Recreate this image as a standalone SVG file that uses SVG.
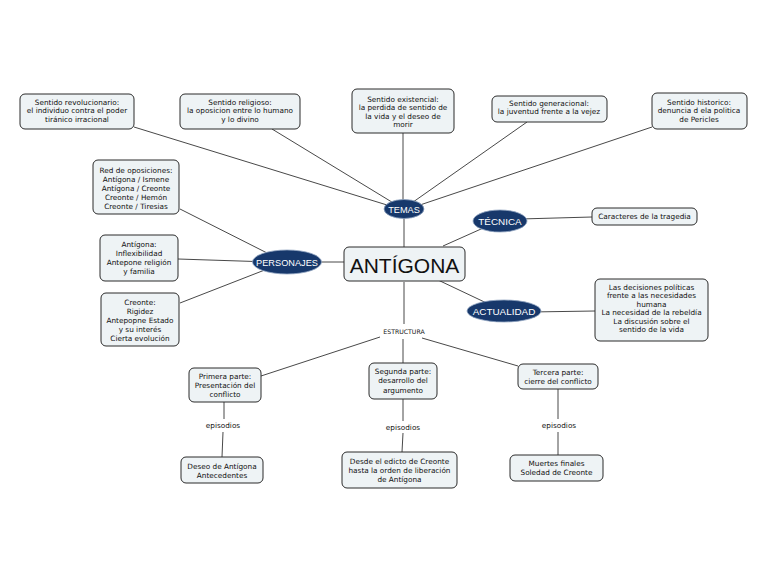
<svg xmlns="http://www.w3.org/2000/svg" width="768" height="578" viewBox="0 0 768 578">
<style>
.box{fill:#eef3f5;stroke:#2b2b2b;stroke-width:1}
.t{font-family:"DejaVu Sans",sans-serif;font-size:7.3px;fill:#111;text-anchor:middle}
.ov{fill:#17386b;stroke:#8fa3c0;stroke-width:0.8}
.ot{font-family:"Liberation Sans",Arial,sans-serif;font-size:9.2px;fill:#fff;text-anchor:middle}
.lbl{font-family:"DejaVu Sans",sans-serif;font-size:7.3px;fill:#111;text-anchor:middle}
.c line{stroke:#333;stroke-width:0.9}
</style>
<rect width="768" height="578" fill="#fff"/>
<g class="c" id="connectors">
<line x1="134" y1="127" x2="400" y2="209"/>
<line x1="272" y1="129" x2="400" y2="207"/>
<line x1="403" y1="133" x2="403" y2="205"/>
<line x1="527" y1="122" x2="406" y2="207"/>
<line x1="652" y1="127" x2="408" y2="209"/>
<line x1="404" y1="215" x2="404" y2="247"/>
<line x1="443" y1="246" x2="490" y2="225"/>
<line x1="520" y1="219" x2="592" y2="217"/>
<line x1="438" y1="280" x2="495" y2="307"/>
<line x1="530" y1="312" x2="595" y2="311"/>
<line x1="321" y1="262" x2="344" y2="262"/>
<line x1="180" y1="209" x2="275" y2="257"/>
<line x1="178" y1="259" x2="270" y2="262"/>
<line x1="180" y1="303" x2="275" y2="266"/>
<line x1="404" y1="282" x2="404" y2="324"/>
<line x1="380" y1="337" x2="261" y2="376"/>
<line x1="403" y1="339" x2="403" y2="363"/>
<line x1="422" y1="338" x2="518" y2="366"/>
<line x1="224" y1="402" x2="224" y2="419"/>
<line x1="223" y1="432" x2="222" y2="457"/>
<line x1="403" y1="399" x2="403" y2="421"/>
<line x1="403" y1="433" x2="402" y2="452"/>
<line x1="558" y1="389" x2="558" y2="419"/>
<line x1="558" y1="432" x2="558" y2="455"/>
</g>
<g id="rev"><rect class="box" x="20" y="94" width="114" height="35" rx="5"/>
<text class="t" x="77" y="104.5">Sentido revolucionario:</text><text class="t" x="77" y="113">el individuo contra el poder</text><text class="t" x="77" y="121.5">tiránico irracional</text></g>
<g id="rel"><rect class="box" x="180" y="94" width="120" height="35" rx="5"/>
<text class="t" x="240" y="104.5">Sentido religioso:</text><text class="t" x="240" y="113">la oposicion entre lo humano</text><text class="t" x="240" y="121.5">y lo divino</text></g>
<g id="exi"><rect class="box" x="352" y="89" width="102" height="44" rx="5"/>
<text class="t" x="403" y="101.5">Sentido existencial:</text><text class="t" x="403" y="110">la perdida de sentido de</text><text class="t" x="403" y="118.5">la vida y el deseo de</text><text class="t" x="403" y="127">morir</text></g>
<g id="gen"><rect class="box" x="492" y="96" width="115" height="26" rx="5"/>
<text class="t" x="549" y="105.5">Sentido generacional:</text><text class="t" x="549" y="114">la juventud frente a la vejez</text></g>
<g id="his"><rect class="box" x="652" y="93" width="95" height="36" rx="5"/>
<text class="t" x="699" y="104.5">Sentido historico:</text><text class="t" x="699" y="113">denuncia d ela politica</text><text class="t" x="699" y="121.5">de Pericles</text></g>
<g id="temas"><ellipse class="ov" cx="404" cy="209" rx="20" ry="9.5"/><text class="ot" x="404" y="212.5" style="font-size:9.2px">TEMAS</text></g>
<g id="tecnica"><ellipse class="ov" cx="500" cy="221" rx="27" ry="11"/><text class="ot" x="500" y="224.6" style="font-size:9.9px">TÉCNICA</text></g>
<g id="car"><rect class="box" x="592" y="208" width="105" height="17" rx="5"/>
<text class="t" x="644.5" y="219">Caracteres de la tragedia</text></g>
<g id="actualidad"><ellipse class="ov" cx="504" cy="311" rx="37" ry="11"/><text class="ot" x="504" y="314.6" style="font-size:9.9px">ACTUALIDAD</text></g>
<g id="act"><rect class="box" x="595" y="279" width="113" height="62" rx="5"/>
<text class="t" x="651.5" y="289.5">Las decisiones políticas</text><text class="t" x="651.5" y="298">frente a las necesidades</text><text class="t" x="651.5" y="306.5">humana</text><text class="t" x="651.5" y="315">La necesidad de la rebeldía</text><text class="t" x="651.5" y="323.5">La discusión sobre el</text><text class="t" x="651.5" y="332">sentido de la vida</text></g>
<g id="antigona"><rect class="box" x="344" y="247" width="121" height="34" rx="5"/>
<text x="404.5" y="272.5" style="font-family:'Liberation Sans',Arial,sans-serif;font-size:21px;fill:#111;text-anchor:middle">ANTÍGONA</text></g>
<g id="personajes"><ellipse class="ov" cx="287" cy="262" rx="34.5" ry="12"/><text class="ot" x="287" y="265.5">PERSONAJES</text></g>
<g id="red"><rect class="box" x="93" y="160" width="86" height="54" rx="5"/>
<text class="t" x="136" y="172.5">Red de oposiciones:</text><text class="t" x="136" y="181.5">Antígona / Ismene</text><text class="t" x="136" y="190.5">Antígona / Creonte</text><text class="t" x="136" y="199.5">Creonte / Hemón</text><text class="t" x="136" y="208.5">Creonte / Tiresias</text></g>
<g id="ant"><rect class="box" x="100" y="235" width="78" height="46" rx="5"/>
<text class="t" x="139" y="246.5">Antígona:</text><text class="t" x="139" y="255.5">Inflexibilidad</text><text class="t" x="139" y="264.5">Antepone religión</text><text class="t" x="139" y="273.5">y familia</text></g>
<g id="cre"><rect class="box" x="101" y="293" width="78" height="53" rx="5"/>
<text class="t" x="140" y="304.5">Creonte:</text><text class="t" x="140" y="313.5">Rigidez</text><text class="t" x="140" y="322.5">Antepopne Estado</text><text class="t" x="140" y="331.5">y su interés</text><text class="t" x="140" y="340.5">Cierta evolución</text></g>
<g id="estructura"><text class="lbl" x="404" y="333.5" style="font-size:6.2px">ESTRUCTURA</text></g>
<g id="p1"><rect class="box" x="189" y="368" width="72" height="34" rx="5"/>
<text class="t" x="225" y="378.5">Primera parte:</text><text class="t" x="225" y="387.5">Presentación del</text><text class="t" x="225" y="396.5">conflicto</text></g>
<g id="p2"><rect class="box" x="369" y="363" width="68" height="36" rx="5"/>
<text class="t" x="403" y="374">Segunda parte:</text><text class="t" x="403" y="383">desarrollo del</text><text class="t" x="403" y="392.5">argumento</text></g>
<g id="p3"><rect class="box" x="518" y="364" width="80" height="25" rx="5"/>
<text class="t" x="558" y="375">Tercera parte:</text><text class="t" x="558" y="384">cierre del conflicto</text></g>
<g id="e1"><text class="lbl" x="223" y="428">episodios</text></g>
<g id="e2"><text class="lbl" x="403" y="429.5">episodios</text></g>
<g id="e3"><text class="lbl" x="559" y="428">episodios</text></g>
<g id="d1"><rect class="box" x="181" y="457" width="82" height="26" rx="5"/>
<text class="t" x="222" y="469">Deseo de Antígona</text><text class="t" x="222" y="477.5">Antecedentes</text></g>
<g id="d2"><rect class="box" x="342" y="452" width="115" height="36" rx="5"/>
<text class="t" x="399.5" y="464">Desde el edicto de Creonte</text><text class="t" x="399.5" y="473">hasta la orden de liberación</text><text class="t" x="399.5" y="482">de Antígona</text></g>
<g id="d3"><rect class="box" x="510" y="455" width="93" height="26" rx="5"/>
<text class="t" x="556.5" y="465.5">Muertes finales</text><text class="t" x="556.5" y="474.5">Soledad de Creonte</text></g>
</svg>
